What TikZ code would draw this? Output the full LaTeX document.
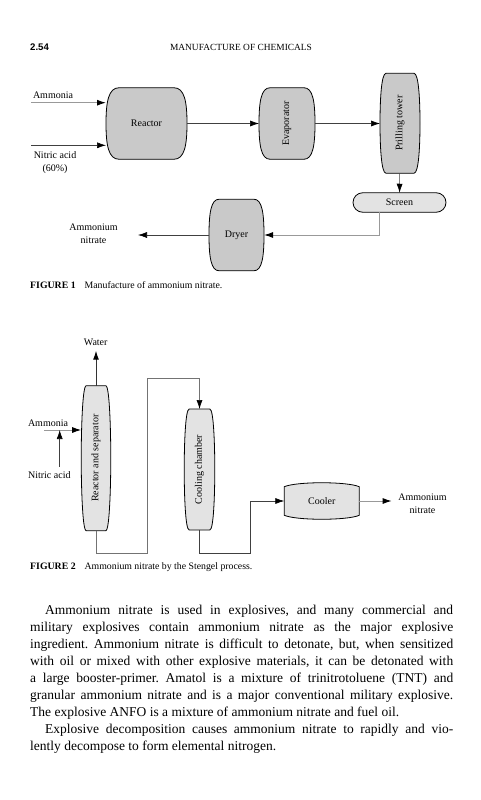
\documentclass[tikz,border=0pt]{standalone}
\usepackage{fontspec}
\setmainfont{Liberation Serif}
\setsansfont{Liberation Sans}
\usepackage{tikz}
\usetikzlibrary{arrows.meta,calc,backgrounds,shapes.misc}
\colorlet{vesseldark}{black!21}
\colorlet{vessellight}{black!11}
\tikzset{
  vessel/.style={rectangle,outer sep=0pt,inner sep=0pt,align=center,font=\fontsize{10}{12}\selectfont},
  capsule/.style={rounded rectangle,draw=black,line width=0.8pt,fill=vessellight,outer sep=0pt,inner sep=0pt,font=\fontsize{10}{12}\selectfont},
  outline/.style={draw=black,line width=0.8pt},
  label/.style={align=center,inner sep=0pt,font=\fontsize{10}{12.8}\selectfont},
  arrow/.style={-{Latex[length=9pt,width=6pt,black]},draw=black!75,line width=0.6pt},
  palearrow/.style={-{Latex[length=9pt,width=6pt,black]},draw=black!40,line width=1pt},
  caption/.style={anchor=west,inner sep=0pt,font=\fontsize{9.8}{11}\selectfont}
}
\begin{document}
\begin{tikzpicture}[x=1pt,y=-1pt]
  \useasboundingbox (0,0) rectangle (481,800);
  % page head
  \node[anchor=west,inner sep=0pt,font=\sffamily\bfseries\fontsize{9.6}{10}\selectfont] (folio) at (30,47) {2.54};
  \node[inner sep=0pt,font=\fontsize{9.4}{10}\selectfont] (head) at (241,47) {MANUFACTURE OF CHEMICALS};

  % figure 1
  \node[vessel,minimum width=81pt,minimum height=71.5pt] (reactor) at (146.5,123.5) {Reactor};
  \node[vessel,minimum width=56pt,minimum height=71.5pt] (evaporator) at (287,123.5) {\rotatebox{90}{Evaporator}};
  \node[vessel,minimum width=40pt,minimum height=100pt] (tower) at (400,123.3) {\rotatebox{90}{Prilling tower}};
  \node[capsule,minimum width=93pt,minimum height=19.5pt] (screen) at (399.5,202.5) {Screen};
  \node[vessel,minimum width=55pt,minimum height=71.5pt] (dryer) at (236.5,235) {Dryer};

  \node[label] (ammonia1) at (53,95) {Ammonia};
  \node[label] (nitric1) at (55,162.5) {Nitric acid\\(60\%)};
  \node[label] (product1) at (93.5,233.5) {Ammonium\\nitrate};
  \coordinate (ammoniain) at (31,102.7);
  \coordinate (nitricin) at (31,145.3);
  \coordinate (dryerout) at (138,235);
  \coordinate (screenout) at (379.3,212.2);

  \draw[palearrow] (ammoniain) -- (ammoniain -| reactor.west);
  \draw[arrow] (nitricin) -- (nitricin -| reactor.west);
  \draw[arrow] (reactor) -- (evaporator);
  \draw[arrow] (evaporator) -- (evaporator -| tower.west);
  \draw[arrow] (tower) -- (screen);
  \draw[palearrow] (screenout) |- (dryer);
  \draw[arrow] (dryer) -- (dryerout);
  \node[caption] (caption1) at (30,285) {\textbf{FIGURE 1}\hspace{9pt}Manufacture of ammonium nitrate.};

  % figure 2
  \node[vessel,minimum width=29.6pt,minimum height=145pt] (separator) at (96,458.2) {\rotatebox{90}{Reactor and separator}};
  \node[vessel,minimum width=30.6pt,minimum height=121pt] (chamber) at (199.5,469.5) {\rotatebox{90}{Cooling chamber}};
  \node[vessel,minimum width=75pt,minimum height=36.6pt] (cooler) at (321.8,501) {Cooler};

  \node[label] (water) at (95.7,342.5) {Water};
  \node[label] (ammonia2) at (48,423) {Ammonia};
  \node[label] (nitric2) at (49.3,475) {Nitric acid};
  \node[label] (product2) at (422.5,503.5) {Ammonium\\nitrate};
  \coordinate (waterout) at (96,350.7);
  \coordinate (ammoniafeed) at (44,430);
  \coordinate (nitricfeed) at (59.7,466.7);
  \coordinate (separatorout) at (96.4,530.7);
  \coordinate (chamberout) at (199.4,530);
  \coordinate (pipeone) at (147.7,553.3);
  \coordinate (pipetwo) at (147.7,378.3);
  \coordinate (pipethree) at (250.7,553.3);
  \coordinate (coolerout) at (391.7,501);

  \draw[arrow,draw=black!80,line width=1pt] (separator.north -| waterout) -- (waterout);
  \draw[palearrow] (ammoniafeed) -- (ammoniafeed -| separator.west);
  \draw[arrow] (nitricfeed) -- (nitricfeed |- ammoniafeed);
  \draw[arrow,draw=black!55] (separatorout) |- (pipeone) -- (pipetwo) -| (chamber);
  \draw[arrow] (chamberout) |- (pipethree) |- (cooler);
  \draw[palearrow] (cooler) -- (coolerout);
  \node[caption] (caption2) at (30,566.7) {\textbf{FIGURE 2}\hspace{9pt}Ammonium nitrate by the Stengel process.};

  % body text
  \node[anchor=north west,inner sep=0pt,text width=423pt,align=justify,font=\frenchspacing\fontsize{13.5}{17}\selectfont] (bodytext) at (30,604.5) {%
    \hspace*{15pt}Ammonium nitrate is used in explosives, and many commercial and\linebreak
    military explosives contain ammonium nitrate as the major explosive\linebreak
    ingredient. Ammonium nitrate is difficult to detonate, but, when sensitized\linebreak
    with oil or mixed with other explosive materials, it can be detonated with\linebreak
    a large booster-primer. Amatol is a mixture of trinitrotoluene (TNT) and\linebreak
    granular ammonium nitrate and is a major conventional military explosive.\linebreak
    The explosive ANFO is a mixture of ammonium nitrate and fuel oil.\par
    \hspace*{15pt}Explosive decomposition causes ammonium nitrate to rapidly and vio-\linebreak
    lently decompose to form elemental nitrogen.\par};

  % vessel outlines go behind the names
  \begin{scope}[on background layer]
    \foreach \vname/\vfill/\rx in {reactor/vesseldark/13,evaporator/vesseldark/11,tower/vesseldark/6,dryer/vesseldark/10,separator/vessellight/5,chamber/vessellight/5}{
      \draw[outline,fill=\vfill]
        ($(\vname.north west)+(\rx,0)$) -- ($(\vname.north east)+(-\rx,0)$)
        .. controls ($(\vname.north east)+(-0.2*\rx,0)$) and ($(\vname.east)+(0,-22)$) .. (\vname.east)
        .. controls ($(\vname.east)+(0,22)$) and ($(\vname.south east)+(-0.2*\rx,0)$) .. ($(\vname.south east)+(-\rx,0)$)
        -- ($(\vname.south west)+(\rx,0)$)
        .. controls ($(\vname.south west)+(0.2*\rx,0)$) and ($(\vname.west)+(0,22)$) .. (\vname.west)
        .. controls ($(\vname.west)+(0,-22)$) and ($(\vname.north west)+(0.2*\rx,0)$) .. cycle;
    }
    \draw[outline,fill=vessellight]
      ($(cooler.north west)+(0,4)$) .. controls ($(cooler.north)+(-25,-1.3)$) and ($(cooler.north)+(25,-1.3)$) .. ($(cooler.north east)+(0,4)$)
      -- ($(cooler.south east)+(0,-4)$) .. controls ($(cooler.south)+(25,1.3)$) and ($(cooler.south)+(-25,1.3)$) .. ($(cooler.south west)+(0,-4)$) -- cycle;
  \end{scope}
\end{tikzpicture}
\end{document}
